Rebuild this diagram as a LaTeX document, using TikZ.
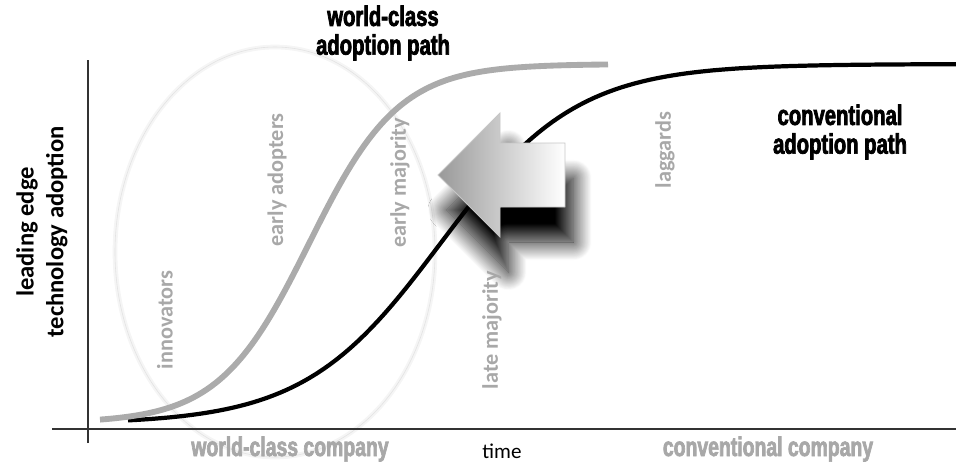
\documentclass[tikz,border=0pt]{standalone}
\usepackage{fontspec}
\setmainfont{Carlito}
\newfontfamily\impactfont{Liberation Sans}[FakeStretch=0.72, FakeBold=2.5]
\usetikzlibrary{shadows.blur}
\definecolor{lblgray}{HTML}{A8A8A8}
\definecolor{curvegray}{HTML}{ABABAB}
\definecolor{axisgray}{HTML}{333333}

\begin{document}
\begin{tikzpicture}[x=0.03cm, y=-0.03cm,
    phase/.style={rotate=90, text=lblgray, font=\bfseries\fontsize{19}{19}\selectfont},
    pathlabel/.style={align=center, font=\impactfont\bfseries\fontsize{24}{24.5}\selectfont},
    company/.style={text=lblgray, anchor=base, inner sep=0pt,
        font=\impactfont\bfseries\fontsize{23}{23}\selectfont}]
    \useasboundingbox (0,0) rectangle (956,463);
    % Group ellipse
    \draw[gray!8, line width=4pt] (275,252) ellipse [x radius=160, y radius=205];
    \draw[gray!22, line width=0.5pt] (275,252) ellipse [x radius=160, y radius=205];
    % Axes
    \coordinate (ytop) at (88,60);
    \coordinate (ybot) at (88,443);
    \coordinate (xleft) at (52,429);
    \coordinate (xright) at (956,429);
    \draw[axisgray, line width=1.6pt] (ybot) -- (ytop);
    \draw[axisgray, line width=1.6pt] (xleft) -- (xright);
    % Curves
    \draw[black, line width=3.6pt] plot[domain=128:956, samples=120]
        (\x, {424-360/(1+exp(-(\x-440)/68))});
    \draw[curvegray, line width=5pt] plot[domain=100:608, samples=120]
        (\x, {423-359/(1+exp(-(\x-309)/45))});
    % Arrow
    \path[blur shadow={shadow xshift=0.25cm, shadow yshift=-1.05cm,
            shadow blur radius=0.55cm, shadow blur steps=30, shadow opacity=100},
        left color=gray!80, right color=white, draw=gray!45, line width=0.8pt]
        (438,175) -- (500,113) -- (500,143) -- (565,143) -- (565,207)
        -- (500,207) -- (500,237) -- cycle;
    % Phase labels
    \foreach \x/\y/\t/\n in {165/320/innovators/inno, 277/180/early adopters/adopt,
        400/183/early majority/early, 492/330/late majority/late, 665/150/laggards/lag} {
        \node[phase] (\n) at (\x,\y) {\t};
    }
    % Path labels
    \node[pathlabel] (worldpath) at (383,33) {world-class\\adoption path};
    \node[pathlabel] (convpath) at (840,132) {conventional\\adoption path};
    \node[company] (worldco) at (290,456) {world-class company};
    \node[company] (convco) at (768,456) {conventional company};
    % Axis labels
    \node[font=\fontsize{18}{18}\selectfont] (time) at (502,451) {time};
    \node[rotate=90, align=center, font=\bfseries\fontsize{21}{25.5}\selectfont] (yaxis)
        at (42,232) {leading edge\\technology adoption};
\end{tikzpicture}
\end{document}
